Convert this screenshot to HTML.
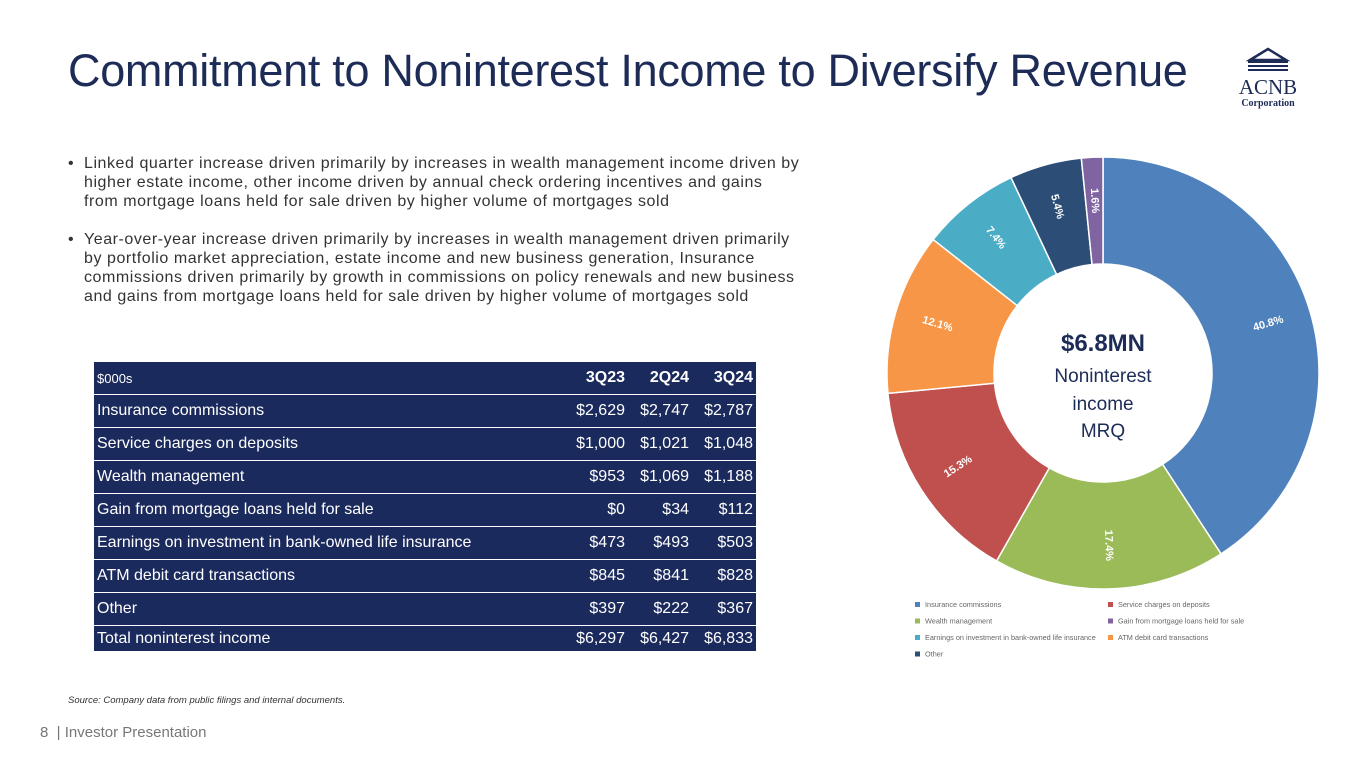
<!DOCTYPE html>
<html><head><meta charset="utf-8"><style>
body{margin:0;width:1365px;height:768px;background:#fff;font-family:"Liberation Sans",sans-serif;position:relative;overflow:hidden}
.abs{position:absolute}
h1{position:absolute;left:68px;top:45px;margin:0;font-weight:normal;font-size:45px;color:#1d2b57;letter-spacing:-0.3px;white-space:nowrap}
.b{position:absolute;left:68px;font-size:16px;letter-spacing:0.55px;line-height:19px;color:#333;white-space:nowrap}
.b span.dot{position:absolute;left:0}
.b div{margin-left:16px}
table{position:absolute;left:94px;top:362px;width:662px;border-collapse:collapse;background:#1b2a5c;color:#fff;font-size:16px}
td{height:32px;border-bottom:1.5px solid #fff;padding:0 3px;white-space:nowrap}
td.n{text-align:right;width:58px}
tr.h td{font-size:13px;height:32px}
tr.h td.n{font-size:16px;font-weight:bold}
tr.t td{border-bottom:none;height:25px}
</style></head><body>
<h1>Commitment to Noninterest Income to Diversify Revenue</h1>
<svg class="abs" style="left:1228px;top:46px" width="84" height="72">
<polygon points="22,14 40,3 58,14" fill="none" stroke="#1d2b57" stroke-width="2.5"/>
<rect x="20" y="14" width="40" height="3" fill="#1d2b57"/><rect x="20" y="19" width="40" height="2" fill="#1d2b57"/><rect x="20" y="23" width="40" height="2" fill="#1d2b57"/>
<text x="40" y="48" text-anchor="middle" font-family="Liberation Serif" font-size="21" fill="#1d2b57">ACNB</text>
<text x="40" y="60" text-anchor="middle" font-family="Liberation Serif" font-size="10" font-weight="bold" fill="#1d2b57">Corporation</text>
</svg>
<div class="b" style="top:154px"><span class="dot">•</span><div>Linked quarter increase driven primarily by increases in wealth management income driven by<br>higher estate income, other income driven by annual check ordering incentives and gains<br>from mortgage loans held for sale driven by higher volume of mortgages sold</div></div>
<div class="b" style="top:230px"><span class="dot">•</span><div>Year-over-year increase driven primarily by increases in wealth management driven primarily<br>by portfolio market appreciation, estate income and new business generation, Insurance<br>commissions driven primarily by growth in commissions on policy renewals and new business<br>and gains from mortgage loans held for sale driven by higher volume of mortgages sold</div></div>
<table>
<tr class="h"><td>$000s</td><td class="n">3Q23</td><td class="n">2Q24</td><td class="n">3Q24</td></tr>
<tr><td>Insurance commissions</td><td class="n">$2,629</td><td class="n">$2,747</td><td class="n">$2,787</td></tr>
<tr><td>Service charges on deposits</td><td class="n">$1,000</td><td class="n">$1,021</td><td class="n">$1,048</td></tr>
<tr><td>Wealth management</td><td class="n">$953</td><td class="n">$1,069</td><td class="n">$1,188</td></tr>
<tr><td>Gain from mortgage loans held for sale</td><td class="n">$0</td><td class="n">$34</td><td class="n">$112</td></tr>
<tr><td>Earnings on investment in bank-owned life insurance</td><td class="n">$473</td><td class="n">$493</td><td class="n">$503</td></tr>
<tr><td>ATM debit card transactions</td><td class="n">$845</td><td class="n">$841</td><td class="n">$828</td></tr>
<tr><td>Other</td><td class="n">$397</td><td class="n">$222</td><td class="n">$367</td></tr>
<tr class="t"><td>Total noninterest income</td><td class="n">$6,297</td><td class="n">$6,427</td><td class="n">$6,833</td></tr>
</table>
<div class="abs" style="left:68px;top:695px;font-size:9.5px;font-style:italic;color:#333">Source: Company data from public filings and internal documents.</div>
<div class="abs" style="left:40px;top:724px;font-size:15px;color:#777">8 &nbsp;| Investor Presentation</div>
<svg id="donut" class="abs" style="left:860px;top:140px" width="500" height="530"></svg>
<script>
const categories=["Insurance commissions","Wealth management","Service charges on deposits","ATM debit card transactions","Earnings on investment in bank-owned life insurance","Other","Gain from mortgage loans held for sale"];
const values=[40.8,17.4,15.3,12.1,7.4,5.4,1.6];
const colors=["#4f81bd","#9bbb59","#c0504d","#f79646","#4bacc6","#2c4d75","#8064a2"];
const legendOrder=[0,2,1,6,4,3,5];
const NS="http://www.w3.org/2000/svg";
const svg=document.getElementById('donut');
const cx=243,cy=233,R=216,r=109;
const total=values.reduce((a,b)=>a+b,0);
let a0=0;
function pt(a,rad){return [cx+rad*Math.sin(a),cy-rad*Math.cos(a)];}
values.forEach((v,i)=>{
 const a1=a0+v/total*2*Math.PI;
 const [x1,y1]=pt(a0,R),[x2,y2]=pt(a1,R),[x3,y3]=pt(a1,r),[x4,y4]=pt(a0,r);
 const lg=(a1-a0)>Math.PI?1:0;
 const p=document.createElementNS(NS,'path');
 p.setAttribute('d',`M${x1},${y1}A${R},${R} 0 ${lg} 1 ${x2},${y2}L${x3},${y3}A${r},${r} 0 ${lg} 0 ${x4},${y4}Z`);
 p.setAttribute('fill',colors[i]);p.setAttribute('stroke','#fff');p.setAttribute('stroke-width','1.5');
 
 
 svg.appendChild(p);
 const am=(a0+a1)/2,[lx,ly]=pt(am,(R+r)/2+10);
 let deg=am*180/Math.PI-90; if(deg>90)deg-=180;
 const t=document.createElementNS(NS,'text');
 t.setAttribute('x',lx);t.setAttribute('y',ly);t.setAttribute('text-anchor','middle');t.setAttribute('dominant-baseline','middle');
 t.setAttribute('transform',`rotate(${deg} ${lx} ${ly})`);t.setAttribute('fill','#fff');t.setAttribute('font-size','11');t.setAttribute('font-weight','bold');
 t.textContent=v.toFixed(1)+'%';
 
 
 svg.appendChild(t);
 a0=a1;
});
[["$6.8MN",cy-22,24,"bold"],["Noninterest",cy+9,19,"normal"],["income",cy+37,19,"normal"],["MRQ",cy+64,19,"normal"]].forEach((c,k)=>{
 const t=document.createElementNS(NS,'text');
 t.setAttribute('x',cx);t.setAttribute('y',c[1]);t.setAttribute('text-anchor','middle');t.setAttribute('fill','#1d2b57');
 t.setAttribute('font-size',c[2]);t.setAttribute('font-weight',c[3]);t.textContent=c[0];
 
 
 svg.appendChild(t);
});
legendOrder.forEach((ci,k)=>{
 const x=55+(k%2)*193,y=467+Math.floor(k/2)*16.5;
 const g=document.createElementNS(NS,'g');
 
 
 const s=document.createElementNS(NS,'rect');s.setAttribute('x',x);s.setAttribute('y',y-5);s.setAttribute('width',5);s.setAttribute('height',5);s.setAttribute('fill',colors[ci]);
 const t=document.createElementNS(NS,'text');t.setAttribute('x',x+10);t.setAttribute('y',y);t.setAttribute('font-size','7.3');t.setAttribute('fill','#666');t.textContent=categories[ci];
 g.appendChild(s);g.appendChild(t);svg.appendChild(g);
});
</script>
</body></html>
